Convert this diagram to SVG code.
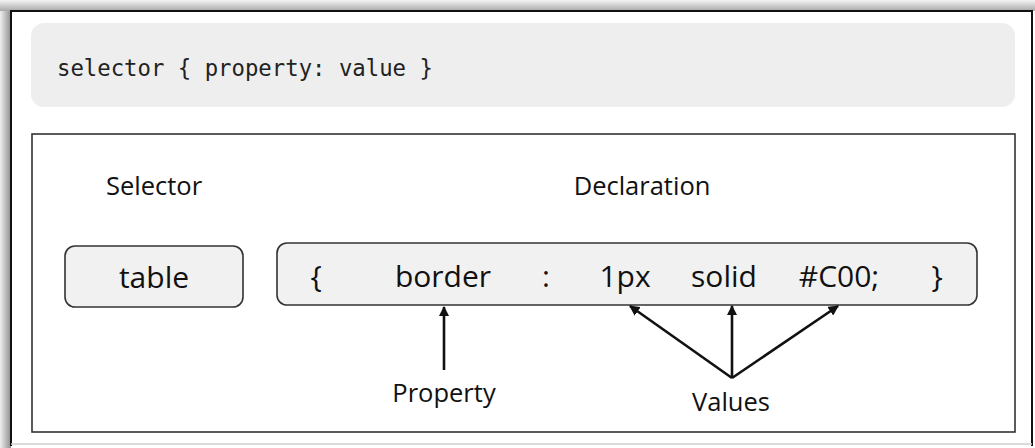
<svg xmlns="http://www.w3.org/2000/svg" width="1035" height="448" viewBox="0 0 1035 448">
<defs>
<linearGradient id="shL" x1="0" y1="0" x2="1" y2="0"><stop offset="0" stop-color="#f0f0f0"/><stop offset="1" stop-color="#8e8e8e"/></linearGradient>
<linearGradient id="shT" x1="0" y1="0" x2="0" y2="1"><stop offset="0" stop-color="#f4f4f4"/><stop offset="1" stop-color="#a8a8a8"/></linearGradient>
<marker id="ah" viewBox="0 0 10 10" refX="9" refY="5" markerWidth="4" markerHeight="4" orient="auto" markerUnits="strokeWidth"><path d="M0,0 L10,5 L0,10 z" fill="#111"/></marker>
<style>
.t{font-family:"Open Sans","Noto Sans","Liberation Sans",sans-serif;fill:#111;text-anchor:middle}
.box{fill:#f1f1f1;stroke:#333;stroke-width:1.6}
.arr{stroke:#111;stroke-width:2.6;fill:none;marker-end:url(#ah)}
</style>
</defs>
<rect x="0" y="0" width="1035" height="448" fill="#ffffff"/>
<rect x="0" y="0" width="11" height="448" fill="url(#shL)"/>
<rect x="0" y="0" width="1035" height="11" fill="url(#shT)"/>
<g id="frame">
<path d="M11,446 L11,11 L1032,11 L1032,446" fill="#fff" stroke="#111" stroke-width="2"/>
<line x1="11" y1="444" x2="1032" y2="444" stroke="#cfcfcf" stroke-width="1.5"/>
</g>
<g id="code">
<rect x="31" y="23" width="984" height="84" rx="13" fill="#eeeeee"/>
<text x="57" y="76" font-family="'DejaVu Sans Mono','Liberation Mono',monospace" font-size="22.3" fill="#222">selector { property: value }</text>
</g>
<g id="panel">
<rect x="32" y="134" width="983" height="298" fill="#fff" stroke="#333" stroke-width="1.6"/>
</g>
<g id="selector-label"><text class="t" x="154" y="195" font-size="25.5">Selector</text></g>
<g id="declaration-label"><text class="t" x="642" y="195" font-size="25.5">Declaration</text></g>
<g id="selector-box">
<rect class="box" x="65" y="246" width="178" height="61" rx="10"/>
<text class="t" x="154" y="288" font-size="30">table</text>
</g>
<g id="declaration-box">
<rect class="box" x="277" y="243" width="700" height="62" rx="10"/>
<text class="t" x="316" y="287" font-size="30">{</text>
<text class="t" x="443" y="287" font-size="30">border</text>
<text class="t" x="546" y="287" font-size="30">:</text>
<text class="t" x="625" y="287" font-size="30">1px</text>
<text class="t" x="724" y="287" font-size="30">solid</text>
<text class="t" x="839" y="287" font-size="30">#C00;</text>
<text class="t" x="937" y="287" font-size="30">}</text>
</g>
<g id="connectors">
<line class="arr" x1="444" y1="370" x2="444" y2="307"/>
<line class="arr" x1="732" y1="378" x2="630" y2="306"/>
<line class="arr" x1="732" y1="378" x2="732" y2="306"/>
<line class="arr" x1="732" y1="378" x2="838" y2="306"/>
</g>
<g id="property-label"><text class="t" x="444" y="402" font-size="25.5">Property</text></g>
<g id="values-label"><text class="t" x="731" y="411" font-size="25.5">Values</text></g>
</svg>
